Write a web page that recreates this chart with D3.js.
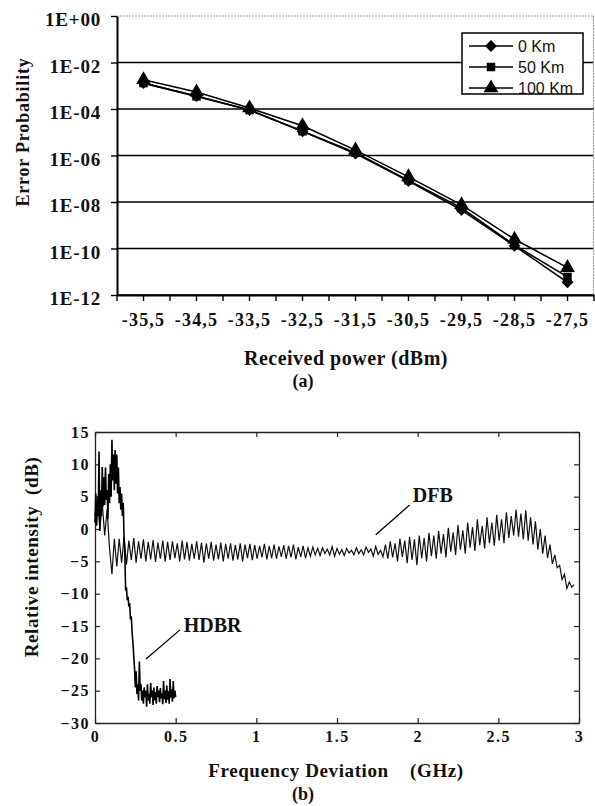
<!DOCTYPE html>
<html>
<head>
<meta charset="utf-8">
<script src="https://d3js.org/d3.v7.min.js"></script>
<style>
body { margin: 0; background: #fff; }
svg { display: block; }
.serif { font-family: "Liberation Serif", "Times New Roman", serif; font-weight: bold; fill: #111; }
.sans { font-family: "Liberation Sans", Arial, sans-serif; fill: #111; }
</style>
</head>
<body>
<svg id="fig" width="595" height="806"></svg>
<script>
// (a) error probability vs received power
var powers = ["-35,5", "-34,5", "-33,5", "-32,5", "-31,5", "-30,5", "-29,5", "-28,5", "-27,5"];
var ber0   = [1.3e-3, 3.6e-4, 9e-5, 1.1e-5, 1.2e-6, 8e-8, 4.5e-9, 1.3e-10, 3.5e-12];
var ber50  = [1.3e-3, 3.5e-4, 9e-5, 1.1e-5, 1.3e-6, 8.5e-8, 5.5e-9, 1.4e-10, 6e-12];
var ber100 = [1.8e-3, 5.4e-4, 1.1e-4, 1.9e-5, 1.7e-6, 1.2e-7, 7.5e-9, 2.5e-10, 1.5e-11];
var berTicks = [1, 1e-2, 1e-4, 1e-6, 1e-8, 1e-10, 1e-12];
var berLabels = ["1E+00", "1E-02", "1E-04", "1E-06", "1E-08", "1E-10", "1E-12"];
var seriesNames = ["0 Km", "50 Km", "100 Km"];

// (b) relative intensity spectra, sampled on a fixed frequency step
var freqTicks = [0, 0.5, 1, 1.5, 2, 2.5, 3];
var rinTicks = [15, 10, 5, 0, -5, -10, -15, -20, -25, -30];
var hdbrStep = 0.005;
var hdbr = [1, 5.5, 0.5, 4, 2, 12, -0.3, 6, 2, 9.6,
  3.5, 8, 3.7, 9.5, 4.5, 6, 1.5, 8.5, 4, 10,
  5, 13.8, 7.5, 11.5, 6, 12.2, 7, 11.5, 5.5, 9.5,
  4, 6.5, 3, 5.5, 2, 4, -1, -4, -9.5, -9,
  -11, -10.5, -12, -11.5, -14, -13.5, -16, -17.5, -19.5, -21.5,
  -24.5, -22, -25.5, -24, -26.5, -20.5, -25, -24, -26.5, -25,
  -27, -24.5, -26, -25, -27.5, -24, -26.5, -25.5, -27, -23.8,
  -26, -25, -27.2, -24.5, -26.5, -25.2, -27, -24.3, -26, -25,
  -26.8, -24.6, -26.2, -25.4, -27.1, -23.5, -26.3, -25, -26.9, -24.2,
  -26.4, -25.1, -27, -23.2, -26.1, -24.8, -26.7, -23.5, -26.2, -25, -26];
var dfbStep = 0.015;
var dfb = [2, 5, 0, 4, -1, 3, -3, -7, -1.5, -5.8,
  -1.5, -5.2, -1.2, -5.5, -1.8, -4.8, -1.4, -5.2, -1.9, -4.6,
  -1.6, -5.0, -2.0, -4.7, -1.7, -5.1, -2.1, -4.6, -1.8, -5.0,
  -2.0, -4.8, -1.9, -4.5, -2.2, -5.0, -1.8, -4.7, -2.0, -4.9,
  -2.3, -4.6, -1.9, -4.8, -2.1, -5.2, -2.2, -4.6, -2.0, -4.9,
  -2.4, -4.7, -2.1, -5.0, -2.3, -4.6, -2.2, -4.9, -2.5, -4.7,
  -2.2, -5.0, -2.4, -4.5, -2.3, -4.8, -2.5, -4.6, -2.6, -4.4,
  -2.3, -4.7, -2.6, -4.5, -2.4, -4.6, -2.7, -4.3, -2.5, -4.6,
  -2.6, -4.4, -2.4, -4.7, -2.8, -4.3, -2.6, -4.5, -2.9, -4.2,
  -2.8, -4.0, -3.0, -4.1, -2.9, -3.8, -3.1, -4.0, -2.7, -4.2,
  -3.0, -3.9, -3.2, -4.1, -3.0, -3.7, -3.3, -4.0, -2.9, -3.8,
  -3.2, -4.0, -2.8, -3.6, -3.1, -4.2, -2.7, -3.9, -3.3, -4.3,
  -2.4, -4.6, -1.9, -4.4, -2.2, -5.0, -1.5, -4.3, -1.8, -5.3,
  -1.2, -4.8, -1.6, -5.6, -1.0, -4.5, -1.4, -5.0, -0.6, -4.2,
  -1.0, -4.6, -0.3, -3.8, -0.8, -4.4, 0.2, -3.5, -0.5, -4.0,
  0.6, -3.2, -0.2, -3.8, 1.0, -2.9, 0.3, -3.4, 1.5, -2.5,
  0.5, -3.0, 1.8, -2.2, 1.0, -2.6, 2.2, -1.8, 1.5, -2.2,
  2.6, -1.4, 2.0, -1.0, 3.0, -1.2, 2.4, -1.6, 2.9, -1.8,
  1.8, -2.4, 1.2, -3.2, 0.0, -3.8, -1.0, -4.5, -2.4, -5.4,
  -4.0, -6.0, -5.6, -7.8, -7.0, -9.2, -8.2, -9.0, -8.6];

var svg = d3.select("#fig");

// ---------- chart (a) ----------
var a = {left: 117, right: 594, top: 16, bottom: 295};
var xa = d3.scaleBand().domain(powers).range([a.left, a.right]);
var ya = d3.scaleLog().domain([1e-12, 1]).range([a.bottom, a.top]);
var bw = xa.bandwidth();
var cx = function(p) { return xa(p) + bw / 2; };

var ga = svg.append("g");

// horizontal gridlines (top one is the faint plot border)
ga.selectAll("line.grid").data(berTicks).enter().append("line")
    .attr("x1", a.left).attr("x2", a.right)
    .attr("y1", function(d) { return ya(d); })
    .attr("y2", function(d) { return ya(d); })
    .attr("stroke", function(d) { return d == 1 ? "#999" : "#000"; })
    .attr("stroke-dasharray", function(d) { return d == 1 ? "2,1" : null; })
    .attr("stroke-width", function(d) { return d == 1 ? 1 : 1.4; });

ga.append("line")
    .attr("x1", a.right - 0.5).attr("x2", a.right - 0.5)
    .attr("y1", a.top).attr("y2", a.bottom)
    .attr("stroke", "#999").attr("stroke-dasharray", "2,1");

// left axis
var yAxisA = d3.axisLeft(ya).tickValues(berTicks)
    .tickFormat(function(d, i) { return berLabels[i]; })
    .tickSize(6).tickSizeOuter(0).tickPadding(10);
var yA = ga.append("g").attr("transform", "translate(" + a.left + ",0)").call(yAxisA);
yA.select(".domain").attr("stroke-width", 2);
yA.selectAll(".tick line").attr("stroke-width", 1.4);
yA.selectAll("text").attr("class", "serif").attr("font-size", 19)
    .attr("letter-spacing", 0.8).attr("dy", "0.5em");

// bottom axis: labels at categories, ticks every half category
var xAxisA = d3.axisBottom(xa).tickSize(6).tickSizeOuter(0).tickPadding(12);
var xA = ga.append("g").attr("transform", "translate(0," + a.bottom + ")").call(xAxisA);
xA.select(".domain").attr("stroke-width", 2);
xA.selectAll(".tick line").attr("stroke-width", 1.4);
xA.selectAll("text").attr("class", "serif").attr("font-size", 18).attr("letter-spacing", 1.2);
xA.selectAll("line.edge").data(powers.concat([null])).enter().append("line")
    .attr("class", "edge")
    .attr("x1", function(p) { return p === null ? a.right : xa(p); })
    .attr("x2", function(p) { return p === null ? a.right : xa(p); })
    .attr("y1", 0).attr("y2", 6)
    .attr("stroke", "#000").attr("stroke-width", 1.4);

// series
var series = [ber0, ber50, ber100];
var symbols = [d3.symbol().type(d3.symbolSquare).size(70),
               d3.symbol().type(d3.symbolSquare).size(72),
               d3.symbol().type(d3.symbolTriangle).size(95)];
var rotations = [45, 0, 0];
var lineA = d3.line().x(function(d, i) { return cx(powers[i]); }).y(function(d) { return ya(d); });

series.forEach(function(s, k) {
  ga.append("path").datum(s).attr("d", lineA)
      .attr("fill", "none").attr("stroke", "#000").attr("stroke-width", 1.6);
});
series.forEach(function(s, k) {
  ga.selectAll("path.m" + k).data(s).enter().append("path")
      .attr("class", "m" + k)
      .attr("d", symbols[k])
      .attr("transform", function(d, i) {
        return "translate(" + cx(powers[i]) + "," + ya(d) + ") rotate(" + rotations[k] + ")";
      })
      .attr("fill", "#000");
});

// legend
var lg = ga.append("g");
lg.append("rect").attr("x", 462).attr("y", 33).attr("width", 121).attr("height", 61)
    .attr("fill", "#fff");
seriesNames.forEach(function(name, k) {
  var y = 46 + k * 21;
  lg.append("line").attr("x1", 469).attr("x2", 513).attr("y1", y).attr("y2", y)
      .attr("stroke", "#000").attr("stroke-width", 1.5);
  lg.append("path").attr("d", symbols[k])
      .attr("transform", "translate(491," + y + ") rotate(" + rotations[k] + ")")
      .attr("fill", "#000");
  lg.append("text").attr("class", "sans").attr("x", 518).attr("y", y + 6)
      .attr("font-size", 16).text(name);
});
lg.append("rect").attr("x", 462).attr("y", 33).attr("width", 121).attr("height", 61)
    .attr("fill", "none").attr("stroke", "#000").attr("stroke-width", 1.5);

ga.append("text").attr("class", "serif").attr("font-size", 18).attr("letter-spacing", 0.8)
    .attr("text-anchor", "middle")
    .attr("transform", "translate(29,132) rotate(-90)")
    .text("Error Probability");
ga.append("text").attr("class", "serif").attr("font-size", 20).attr("letter-spacing", 0.5)
    .attr("text-anchor", "middle").attr("x", 346).attr("y", 365)
    .text("Received power (dBm)");
ga.append("text").attr("class", "serif").attr("font-weight", "normal").attr("font-size", 18)
    .attr("text-anchor", "middle").attr("x", 303).attr("y", 387)
    .text("(a)");

// ---------- chart (b) ----------
var b = {left: 95, right: 579, top: 432, bottom: 723};
var xb = d3.scaleLinear().domain([0, 3]).range([b.left, b.right]);
var yb = d3.scaleLinear().domain([-30, 15]).range([b.bottom, b.top]);
var gb = svg.append("g");

function styleAxis(g) {
  g.select(".domain").attr("stroke", "#222").attr("stroke-width", 1.3);
  g.selectAll(".tick line").attr("stroke", "#222").attr("stroke-width", 1.2);
}

var xB = gb.append("g").attr("transform", "translate(0," + b.bottom + ")")
    .call(d3.axisBottom(xb).tickValues(freqTicks).tickFormat(d3.format("")).tickSize(-5).tickSizeOuter(0).tickPadding(8));
styleAxis(xB);
xB.selectAll("text").attr("class", "serif").attr("font-size", 16).attr("letter-spacing", 1.5);

var xT = gb.append("g").attr("transform", "translate(0," + b.top + ")")
    .call(d3.axisTop(xb).tickValues(freqTicks).tickFormat("").tickSize(-5).tickSizeOuter(0));
styleAxis(xT);

var yB = gb.append("g").attr("transform", "translate(" + b.left + ",0)")
    .call(d3.axisLeft(yb).tickValues(rinTicks).tickSize(-5).tickSizeOuter(0).tickPadding(5));
styleAxis(yB);
yB.selectAll("text").attr("class", "serif").attr("font-size", 16).attr("letter-spacing", 1.5);

var yR = gb.append("g").attr("transform", "translate(" + b.right + ",0)")
    .call(d3.axisRight(yb).tickValues(rinTicks).tickFormat("").tickSize(-5).tickSizeOuter(0));
styleAxis(yR);

var lineHdbr = d3.line().x(function(d, i) { return xb(i * hdbrStep); }).y(function(d) { return yb(d); });
var lineDfb = d3.line().x(function(d, i) { return xb(i * dfbStep); }).y(function(d) { return yb(d); });

gb.append("path").datum(dfb).attr("d", lineDfb)
    .attr("fill", "none").attr("stroke", "#111").attr("stroke-width", 1.2);
gb.append("path").datum(hdbr).attr("d", lineHdbr)
    .attr("fill", "none").attr("stroke", "#000").attr("stroke-width", 1.6);

// annotations
gb.append("line").attr("x1", xb(1.95)).attr("y1", yb(3.7)).attr("x2", xb(1.74)).attr("y2", yb(-0.9))
    .attr("stroke", "#000").attr("stroke-width", 1.3);
gb.append("text").attr("class", "serif").attr("font-size", 20)
    .attr("x", xb(1.97)).attr("y", yb(4.2)).text("DFB");
gb.append("line").attr("x1", xb(0.527)).attr("y1", yb(-15.6)).attr("x2", xb(0.316)).attr("y2", yb(-20.1))
    .attr("stroke", "#000").attr("stroke-width", 1.3);
gb.append("text").attr("class", "serif").attr("font-size", 20)
    .attr("x", xb(0.55)).attr("y", yb(-15.9)).text("HDBR");

gb.append("text").attr("class", "serif").attr("font-size", 19).attr("letter-spacing", 0.6)
    .attr("text-anchor", "middle")
    .attr("transform", "translate(38,557) rotate(-90)")
    .text("Relative intensity\u00a0\u00a0(dB)");
gb.append("text").attr("class", "serif").attr("font-size", 19).attr("letter-spacing", 0.6)
    .attr("text-anchor", "middle").attr("x", 336).attr("y", 777)
    .text("Frequency Deviation\u00a0\u00a0\u00a0\u00a0(GHz)");
gb.append("text").attr("class", "serif").attr("font-weight", "normal").attr("font-size", 18)
    .attr("text-anchor", "middle").attr("x", 303).attr("y", 800)
    .text("(b)");
</script>
</body>
</html>
